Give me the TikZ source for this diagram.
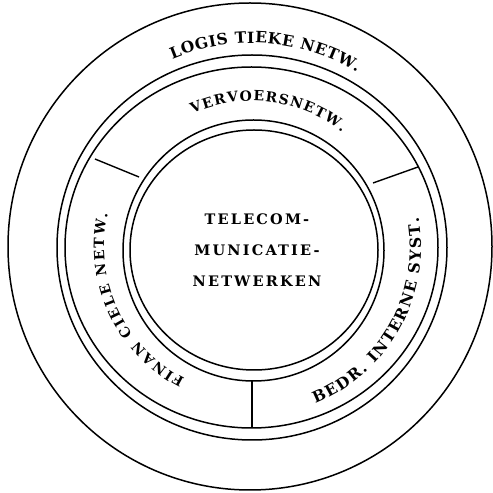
\documentclass[tikz,border=0pt]{standalone}
\usepackage{fontspec}
\setmainfont{DejaVu Serif}
\usetikzlibrary{decorations.text,calc}
\newcommand\ringfontA{\fontsize{15.5}{15.5}\selectfont\bfseries}
\newcommand\ringfontB{\fontsize{14}{14}\selectfont\bfseries}
\begin{document}
\begin{tikzpicture}[x=1pt,y=1pt,
  ring/.style={line width=1.5pt},
  sep/.style={line width=1.4pt},
  arctext/.style={decorate, decoration={text along path, text format delimiters={|}{|}, text align=fit to path, text={#1}}}]
\useasboundingbox (0,0) rectangle (493,493);
\coordinate (C) at (252,246);
% circles
\draw[ring] (250,246.5) ellipse [x radius=242, y radius=243.5];
\draw[ring] (252,245.5) ellipse [x radius=195, y radius=192.5];
\draw[ring] (251.5,245.5) ellipse [x radius=186.5, y radius=180.5];
\draw[ring] (253.5,242.5) ellipse [x radius=130.5, y radius=130.5];
\draw[ring] (254,243) ellipse [x radius=124, y radius=120];
% separators
\coordinate (s1a) at (95,334);  \coordinate (s1b) at (139,316);
\coordinate (s2a) at (418,326); \coordinate (s2b) at (373,310);
\coordinate (s3a) at (252,112); \coordinate (s3b) at (252,65);
\draw[sep] (s1a) -- (s1b);
\draw[sep] (s2a) -- (s2b);
\draw[sep] (s3a) -- (s3b);
% ring texts
\path[arctext={|\ringfontA|LOGIS TIEKE NETW.}] ($(C)+(113:204)$) arc[start angle=113, end angle=59, radius=204];
\path[arctext={|\ringfontB|VERVOERSNETW.}] ($(C)+(114:146)$) arc[start angle=114, end angle=52, radius=146];
\path[arctext={|\ringfontB|FINAN CIELE NETW.}] ($(C)+(243:148)$) arc[start angle=243, end angle=167, radius=148];
\path[arctext={|\ringfontA|BEDR. INTERNE SYST.}] ($(C)+(292:169)$) arc[start angle=292, end angle=370, radius=169];
% centre
\node[font={\fontsize{14.5}{31}\selectfont\bfseries\addfontfeature{LetterSpace=15}}, align=center] (tele) at (257,243) {TELECOM-\\MUNICATIE-\\NETWERKEN};
\end{tikzpicture}
\end{document}
